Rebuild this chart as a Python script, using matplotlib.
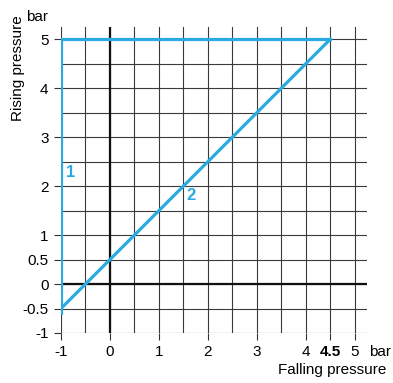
import matplotlib
matplotlib.use("Agg")
import matplotlib.pyplot as plt
import numpy as np

plt.rcParams['font.family'] = ['Liberation Sans', 'DejaVu Sans']

# Data
line1_x = [4.5, -1, -1]
line1_y = [5, 5, -0.6]
line2_x = [-1, 4.5]
line2_y = [-0.5, 5]
x_ticks = [-1, 0, 1, 2, 3, 4, 4.5, 5]
x_tick_labels = ["-1", "0", "1", "2", "3", "4", "4.5", "5"]
y_ticks = [-1, -0.5, 0, 0.5, 1, 2, 3, 4, 5]
y_tick_labels = ["-1", "-0.5", "0", "0.5", "1", "2", "3", "4", "5"]
grid_vals = np.arange(-1, 5.26, 0.5)

blue = "#29ABE2"

fig = plt.figure(figsize=(3.93, 3.83), dpi=100)
ax = fig.add_axes([61/393, 50/383, 306/393, 306/383])
ax.set_xlim(-1, 5.25)
ax.set_ylim(-1, 5.25)

for v in grid_vals:
    ax.axvline(v, color="#3a3a3a", lw=0.8, zorder=1)
    ax.axhline(v, color="#3a3a3a", lw=0.8, zorder=1)
ax.axvline(0, color="#111111", lw=1.6, zorder=1.5)
ax.axhline(0, color="#111111", lw=1.6, zorder=1.5)

ax.plot(line1_x, line1_y, color=blue, lw=2.3, zorder=3, solid_joinstyle='miter')
ax.plot(line2_x, line2_y, color=blue, lw=2.3, zorder=3)

ax.text(-0.8, 2.27, "1", color=blue, fontsize=12, fontweight='bold', ha='center', va='center', zorder=4)
ax.text(1.65, 1.8, "2", color=blue, fontsize=12, fontweight='bold', ha='center', va='center', zorder=4)

for s in ax.spines.values():
    s.set_visible(False)

ax.set_xticks(x_ticks)
ax.set_xticklabels(x_tick_labels, fontsize=11)
ax.set_yticks(y_ticks)
ax.set_yticklabels(y_tick_labels, fontsize=11)
ax.get_xticklabels()[6].set_fontweight('bold')
ax.tick_params(axis='both', length=5, width=0.8, color="#333333", pad=4)

fig.text(391/393, 1-352/383, "bar", fontsize=11, ha='right', va='center')
fig.text(386/393, 1-370/383, "Falling pressure", fontsize=11, ha='right', va='center')
fig.text(18/393, 1-68/383, "Rising pressure", fontsize=11, rotation=90, ha='center', va='center')
fig.text(26/393, 1-17/383, "bar", fontsize=11, ha='left', va='center')

fig.savefig("out.png", dpi=100)
